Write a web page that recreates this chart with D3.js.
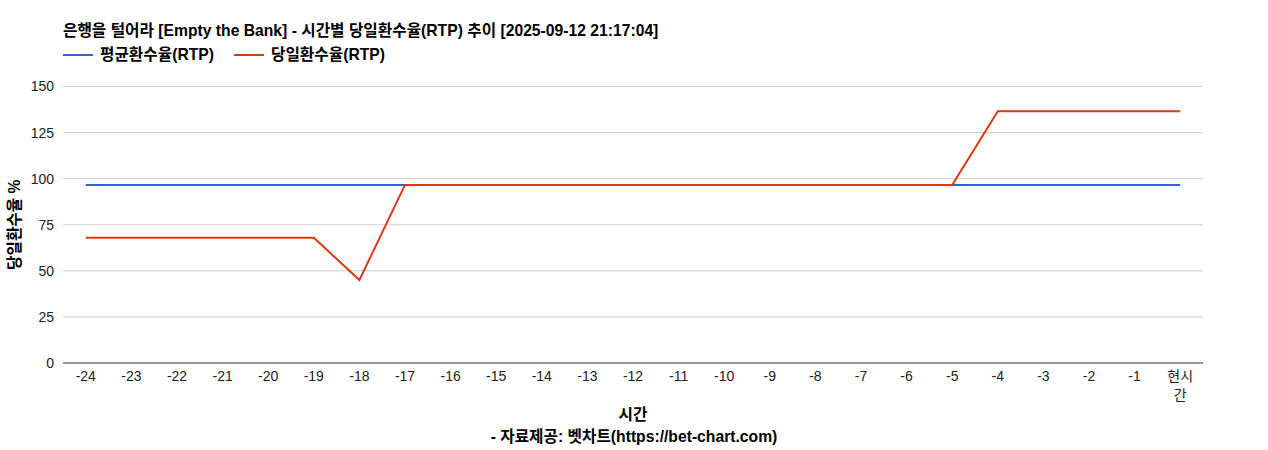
<!DOCTYPE html>
<html>
<head>
<meta charset="utf-8">
<script src="https://cdn.jsdelivr.net/npm/d3@7"></script>
<style>
body { margin: 0; background: #fff; }
text { font-family: "Liberation Sans", Arial, "Noto Sans CJK KR", sans-serif; }
</style>
</head>
<body>
<svg id="chart" width="1268" height="450"></svg>
<script>
/**
Data
*/
var hours = ["-24","-23","-22","-21","-20","-19","-18","-17","-16","-15","-14","-13","-12","-11","-10","-9","-8","-7","-6","-5","-4","-3","-2","-1","현시간"];
var avgRtp = [96.6,96.6,96.6,96.6,96.6,96.6,96.6,96.6,96.6,96.6,96.6,96.6,96.6,96.6,96.6,96.6,96.6,96.6,96.6,96.6,96.6,96.6,96.6,96.6,96.6];
var dayRtp = [68,68,68,68,68,68,45,96.6,96.6,96.6,96.6,96.6,96.6,96.6,96.6,96.6,96.6,96.6,96.6,96.6,136.6,136.6,136.6,136.6,136.6];
var yTicks = [0,25,50,75,100,125,150];
var seriesNames = ["평균환수율(RTP)","당일환수율(RTP)"];
var seriesColors = ["#3366cc","#dc3912"];

var svg = d3.select("#chart");
var plotLeft = 63, plotRight = 1203, plotTop = 86.5, plotBottom = 363;
var boldSize = "15.7px";

var x = d3.scalePoint().domain(hours).range([plotLeft, plotRight]).padding(0.5);
var y = d3.scaleLinear().domain([0,150]).range([plotBottom, plotTop]);

// gridlines
svg.append("g").selectAll("line").data(yTicks.filter(function(d){ return d > 0; }))
	.enter().append("line")
	.attr("x1", plotLeft).attr("x2", plotRight)
	.attr("y1", function(d){ return y(d); }).attr("y2", function(d){ return y(d); })
	.style("stroke", "#cccccc").style("stroke-width", "1px");

// y axis labels
var yAxis = svg.append("g").attr("transform", "translate(" + plotLeft + ",0)")
	.call(d3.axisLeft(y).tickValues(yTicks).tickSize(0).tickPadding(9));
yAxis.select(".domain").remove();
yAxis.selectAll("text").style("font-size", "14px").style("fill", "#222")
	.style("font-family", "'Liberation Sans', Arial, sans-serif");

// lines
var line = d3.line()
	.x(function(d,i){ return x(hours[i]); })
	.y(function(d){ return y(d); });

[avgRtp, dayRtp].forEach(function(s, k){
	svg.append("path").datum(s)
		.attr("d", line)
		.style("fill", "none")
		.style("stroke", seriesColors[k])
		.style("stroke-width", "2px");
});

// baseline
svg.append("line").attr("x1", plotLeft).attr("x2", plotRight)
	.attr("y1", y(0)).attr("y2", y(0))
	.style("stroke", "#333").style("stroke-width", "1px");

// x axis labels
var xl = svg.append("g").selectAll("text").data(hours).enter().append("text")
	.attr("x", function(d){ return x(d); })
	.attr("y", 381)
	.attr("text-anchor", "middle")
	.style("font-size", "14px").style("fill", "#222");
xl.each(function(d){
	var t = d3.select(this);
	if (d.length > 2 && d.indexOf("-") < 0) {
		t.append("tspan").attr("x", x(d)).text(d.slice(0,2));
		t.append("tspan").attr("x", x(d)).attr("dy", 19).text(d.slice(2));
	} else {
		t.text(d);
	}
});

// axis titles
svg.append("text").attr("x", (plotLeft + plotRight) / 2).attr("y", 420)
	.attr("text-anchor", "middle").style("font-size", boldSize).style("font-weight", "bold")
	.text("시간");
svg.append("text").attr("x", 634).attr("y", 442)
	.attr("text-anchor", "middle").style("font-size", boldSize).style("font-weight", "bold")
	.text("- 자료제공: 벳차트(https://bet-chart.com)");
svg.append("text")
	.attr("transform", "translate(20," + ((plotTop + plotBottom) / 2) + ") rotate(-90)")
	.attr("text-anchor", "middle").style("font-size", boldSize).style("font-weight", "bold")
	.text("당일환수율 %");

// title
svg.append("text").attr("x", plotLeft).attr("y", 36)
	.style("font-size", boldSize).style("font-weight", "bold")
	.text("은행을 털어라 [Empty the Bank] - 시간별 당일환수율(RTP) 추이 [2025-09-12 21:17:04]");

// legend
var legendX = [63, 234];
seriesNames.forEach(function(n, k){
	svg.append("line").attr("x1", legendX[k]).attr("x2", legendX[k] + 30)
		.attr("y1", 55).attr("y2", 55)
		.style("stroke", seriesColors[k]).style("stroke-width", "2px");
	svg.append("text").attr("x", legendX[k] + 37).attr("y", 60)
		.style("font-size", boldSize).style("font-weight", "bold")
		.text(n);
});
</script>
</body>
</html>
